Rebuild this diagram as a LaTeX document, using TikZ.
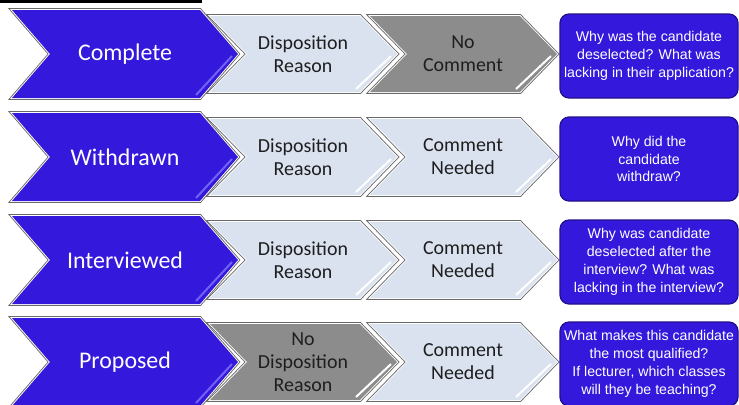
\documentclass[tikz,border=0pt]{standalone}
\usepackage{fontspec}
\setmainfont{Liberation Sans}
\newfontfamily\calib{Carlito}
\definecolor{bluefill}{RGB}{52,24,220}
\definecolor{bluehi}{RGB}{112,98,245}
\definecolor{lightfill}{RGB}{218,226,239}
\definecolor{greyfill}{RGB}{140,140,140}
\definecolor{edgegrey}{RGB}{105,105,105}
\definecolor{boxedge}{RGB}{35,15,140}
\definecolor{txtdark}{RGB}{30,30,30}
\tikzset{
  chevtxt/.style={align=center, font=\calib\fontsize{20}{23}\selectfont, text=txtdark, inner sep=0pt},
  bigtxt/.style={font=\calib\fontsize{24}{28}\selectfont, text=white, inner sep=0pt},
  boxtxt/.style={align=center, font=\fontsize{14.2}{18}\selectfont, text=white},
  qbox/.style={draw=boxedge, line width=1.2bp, fill=bluefill, rounded corners=9bp, minimum width=178bp, minimum height=84bp, inner sep=0pt},
}
% #1 x, #2 yc, #3 w, #4 h, #5 d, #6 fill, #7 highlight colour
\newcommand\chevshape[7]{%
  \foreach \lw/\col in {3.6bp/edgegrey, 1.8bp/white}{%
    \draw[line width=\lw, draw=\col, line join=miter] (#1,#2-#4/2) -- (#1+#3-#5,#2-#4/2) -- (#1+#3,#2) -- (#1+#3-#5,#2+#4/2) -- (#1,#2+#4/2) -- (#1+#5,#2) -- cycle;}
  \fill[#6] (#1,#2-#4/2) -- (#1+#3-#5,#2-#4/2) -- (#1+#3,#2) -- (#1+#3-#5,#2+#4/2) -- (#1,#2+#4/2) -- (#1+#5,#2) -- cycle;
  \draw[#7, line width=2bp] (#1+#3-6,#2+2) -- (#1+#3-#5-4,#2+#4/2-3);
}
% #1 yc, #2 label, #3 fill2, #4 text2, #5 fill3, #6 text3, #7 box text, #8 row id
\newcommand\chevrow[8]{%
  \chevshape{12}{#1}{226}{88}{38}{bluefill}{bluehi}
  \chevshape{210}{#1}{187}{76}{37}{#3}{white}
  \chevshape{370}{#1}{187}{76}{37}{#5}{white}
  \node[bigtxt] (#8a) at (125,#1) {#2};
  \node[chevtxt] (#8b) at (303,#1) {#4};
  \node[chevtxt] (#8c) at (463,#1) {#6};
  \node[qbox, boxtxt] (#8q) at (649,#1+2) {#7};
}
\begin{document}
\begin{tikzpicture}[x=1bp, y=-1bp]
\useasboundingbox (0,0) rectangle (739,404);
\clip (0,0) rectangle (739,404);
\fill[black] (0,0) rectangle (202,3);
\chevrow{54}{Complete}{lightfill}{Disposition\\Reason}{greyfill}{No\\Comment}{Why was the candidate\\deselected? What was\\lacking in their application?}{r1}
\chevrow{157}{Withdrawn}{lightfill}{Disposition\\Reason}{lightfill}{Comment\\Needed}{Why did the\\candidate\\withdraw?}{r2}
\chevrow{260}{Interviewed}{lightfill}{Disposition\\Reason}{lightfill}{Comment\\Needed}{Why was candidate\\deselected after the\\interview? What was\\lacking in the interview?}{r3}
\chevrow{362}{Proposed}{greyfill}{No\\Disposition\\Reason}{lightfill}{Comment\\Needed}{What makes this candidate\\the most qualified?\\If lecturer, which classes\\will they be teaching?}{r4}
\end{tikzpicture}
\end{document}
